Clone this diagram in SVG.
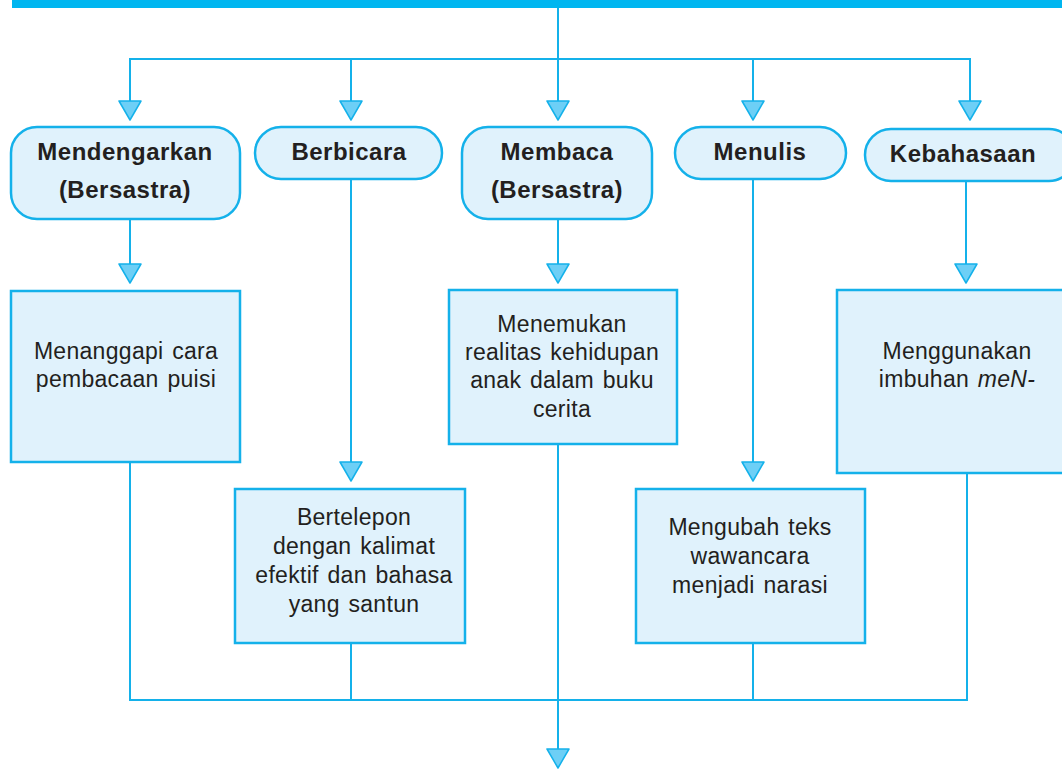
<svg xmlns="http://www.w3.org/2000/svg" width="1062" height="769" viewBox="0 0 1062 769">
  <style>
    .line { fill: none; stroke: #14b1ea; stroke-width: 2; }
    .head { fill: #6dcff6; stroke: #14b1ea; stroke-width: 1.5; stroke-linejoin: round; }
    .pill { fill: #e0f2fc; stroke: #14b1ea; stroke-width: 2.5; }
    .box { fill: #e0f2fc; stroke: #14b1ea; stroke-width: 2.5; }
    .title { font-family: "Liberation Sans", Arial, sans-serif; font-weight: bold; font-size: 24px; letter-spacing: 0.5px; fill: #231f20; text-anchor: middle; }
    .body { font-family: "Liberation Sans", Arial, sans-serif; font-size: 23px; letter-spacing: 0.3px; fill: #231f20; text-anchor: middle; word-spacing: 2px; }
  </style>
  <defs>
    <polygon id="tri" class="head" points="-11,0 11,0 0,19"/>
  </defs>

  <rect x="12" y="0" width="1050" height="8" fill="#00b6f0"/>

  <g id="connectors">
    <!-- trunk from the header down to the final arrow -->
    <polyline class="line" points="558,8 558,101"/>
    <polyline class="line" points="558,219 558,264"/>
    <polyline class="line" points="558,441 558,751"/>
    <!-- distribution bar -->
    <polyline class="line" points="130,101 130,59 970,59 970,101"/>
    <polyline class="line" points="351,59 351,101"/>
    <polyline class="line" points="753,59 753,101"/>
    <!-- branch drops -->
    <polyline class="line" points="130,219 130,264"/>
    <polyline class="line" points="351,179 351,463"/>
    <polyline class="line" points="753,179 753,463"/>
    <polyline class="line" points="966,181 966,264"/>
    <!-- collector bar -->
    <polyline class="line" points="130,462 130,700 967,700 967,473"/>
    <polyline class="line" points="351,643 351,700"/>
    <polyline class="line" points="753,643 753,700"/>
    <!-- arrowheads -->
    <use href="#tri" x="130" y="101"/>
    <use href="#tri" x="351" y="101"/>
    <use href="#tri" x="558" y="101"/>
    <use href="#tri" x="753" y="101"/>
    <use href="#tri" x="970" y="101"/>
    <use href="#tri" x="130" y="264"/>
    <use href="#tri" x="558" y="264"/>
    <use href="#tri" x="966" y="264"/>
    <use href="#tri" x="351" y="462"/>
    <use href="#tri" x="753" y="462"/>
    <use href="#tri" x="558" y="749"/>
  </g>

  <g id="mendengarkan">
    <rect class="pill" x="11" y="127" width="229" height="92" rx="26"/>
    <text class="title" x="125" y="160">Mendengarkan</text>
    <text class="title" x="125" y="198">(Bersastra)</text>
  </g>
  <g id="berbicara">
    <rect class="pill" x="255" y="127" width="187" height="52" rx="26"/>
    <text class="title" x="349" y="160">Berbicara</text>
  </g>
  <g id="membaca">
    <rect class="pill" x="462" y="127" width="190" height="92" rx="26"/>
    <text class="title" x="557" y="160">Membaca</text>
    <text class="title" x="557" y="198">(Bersastra)</text>
  </g>
  <g id="menulis">
    <rect class="pill" x="675" y="127" width="171" height="52" rx="26"/>
    <text class="title" x="760" y="160">Menulis</text>
  </g>
  <g id="kebahasaan">
    <rect class="pill" x="865" y="129" width="210" height="52" rx="26"/>
    <text class="title" x="963" y="162">Kebahasaan</text>
  </g>

  <g id="menanggapi">
    <rect class="box" x="11" y="291" width="229" height="171"/>
    <text class="body" x="126" y="359">Menanggapi cara</text>
    <text class="body" x="126" y="387">pembacaan puisi</text>
  </g>
  <g id="menemukan">
    <rect class="box" x="449" y="290" width="228" height="154"/>
    <text class="body" x="562" y="332">Menemukan</text>
    <text class="body" x="562" y="360">realitas kehidupan</text>
    <text class="body" x="562" y="388">anak dalam buku</text>
    <text class="body" x="562" y="417">cerita</text>
  </g>
  <g id="menggunakan">
    <rect class="box" x="837" y="290" width="240" height="183"/>
    <text class="body" x="957" y="359">Menggunakan</text>
    <text class="body" x="957" y="387">imbuhan <tspan font-style="italic">meN-</tspan></text>
  </g>
  <g id="bertelepon">
    <rect class="box" x="235" y="489" width="230" height="154"/>
    <text class="body" x="354" y="525">Bertelepon</text>
    <text class="body" x="354" y="554">dengan kalimat</text>
    <text class="body" x="354" y="583">efektif dan bahasa</text>
    <text class="body" x="354" y="612">yang santun</text>
  </g>
  <g id="mengubah">
    <rect class="box" x="636" y="489" width="229" height="154"/>
    <text class="body" x="750" y="535">Mengubah teks</text>
    <text class="body" x="750" y="564">wawancara</text>
    <text class="body" x="750" y="593">menjadi narasi</text>
  </g>
</svg>
